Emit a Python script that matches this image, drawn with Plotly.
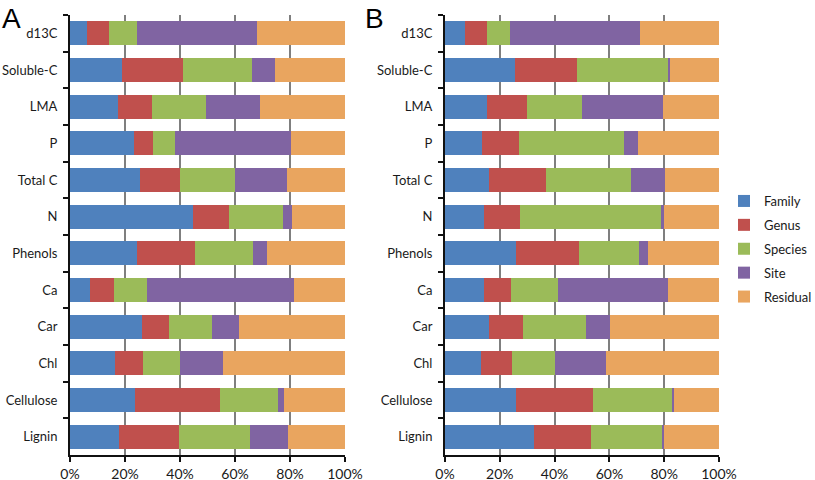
import plotly.graph_objects as go

categories = ["d13C", "Soluble-C", "LMA", "P", "Total C", "N", "Phenols", "Ca", "Car", "Chl", "Cellulose", "Lignin"]
series_names = ["Family", "Genus", "Species", "Site", "Residual"]

# Panel A (%)
a_family   = [6.2, 19.0, 17.6, 23.4, 25.4, 44.9, 24.3, 7.1, 26.0, 16.3, 23.7, 17.9]
a_genus    = [8.0, 22.2, 12.2, 6.9, 14.7, 12.9, 21.0, 8.8, 10.0, 10.2, 30.9, 21.8]
a_species  = [10.3, 24.9, 19.8, 8.0, 19.9, 19.5, 21.1, 12.1, 15.5, 13.4, 21.2, 25.6]
a_site     = [43.5, 8.5, 19.4, 42.1, 18.8, 3.5, 5.3, 53.4, 9.9, 15.6, 1.9, 13.9]
a_residual = [32.0, 25.4, 31.0, 19.6, 21.2, 19.2, 28.3, 18.6, 38.6, 44.5, 22.3, 20.8]

# Panel B (%)
b_family   = [7.4, 25.7, 15.3, 13.5, 16.1, 14.2, 25.9, 14.1, 15.9, 13.0, 25.8, 32.6]
b_genus    = [8.1, 22.4, 14.7, 13.5, 20.8, 13.1, 23.1, 10.0, 12.7, 11.6, 28.3, 20.8]
b_species  = [8.3, 33.5, 20.1, 38.3, 31.0, 51.5, 21.8, 17.1, 22.9, 15.7, 29.1, 26.0]
b_site     = [47.5, 0.5, 29.3, 5.0, 12.3, 1.2, 3.4, 40.3, 8.7, 18.6, 0.5, 0.6]
b_residual = [28.7, 17.9, 20.6, 29.7, 19.8, 20.0, 25.8, 18.5, 39.8, 41.1, 16.3, 20.0]

x_ticks = [0, 20, 40, 60, 80, 100]
x_tick_labels = ["0%", "20%", "40%", "60%", "80%", "100%"]
colors = ["#4F81BD", "#C0504D", "#9BBB59", "#8064A2", "#E9A55F"]

panel_a = [a_family, a_genus, a_species, a_site, a_residual]
panel_b = [b_family, b_genus, b_species, b_site, b_residual]

fig = go.Figure()
for name, vals, col in zip(series_names, panel_a, colors):
    fig.add_trace(go.Bar(y=categories, x=vals, orientation="h", name=name,
                         marker=dict(color=col, line=dict(width=0)),
                         xaxis="x", yaxis="y", legendgroup=name, showlegend=True))
for name, vals, col in zip(series_names, panel_b, colors):
    fig.add_trace(go.Bar(y=categories, x=vals, orientation="h", name=name,
                         marker=dict(color=col, line=dict(width=0)),
                         xaxis="x2", yaxis="y2", legendgroup=name, showlegend=False))

font = dict(family="Lato, Open Sans, sans-serif", size=13, color="#1a1a1a")

def xax(domain, anchor):
    return dict(domain=domain, anchor=anchor, range=[0, 100], tickmode="array",
                tickvals=x_ticks, ticktext=x_tick_labels, automargin=False,
                showgrid=True, gridcolor="#7f7f7f", gridwidth=2,
                showline=True, linecolor="#111", linewidth=2, ticks="outside",
                ticklen=5, tickwidth=2, tickcolor="#111", zeroline=False,
                tickfont=dict(family="Lato, Open Sans, sans-serif", size=14, color="#1a1a1a"),
                fixedrange=True)

def yax(anchor):
    return dict(domain=[1 - 455 / 480, 1 - 15 / 480], anchor=anchor, automargin=False,
                autorange="reversed", type="category", showgrid=False,
                showline=True, linecolor="#111", linewidth=2, ticks="outside",
                tickson="boundaries", ticklen=5, tickwidth=2, tickcolor="#111",
                tickfont=font, ticklabelstandoff=8, fixedrange=True)

fig.update_layout(
    template="none",
    width=815, height=480,
    margin=dict(l=0, r=0, t=0, b=0, autoexpand=False),
    paper_bgcolor="white", plot_bgcolor="white",
    barmode="stack", bargap=0.34,
    font=font,
    xaxis=xax([70 / 815, 345 / 815], "y"),
    yaxis=yax("x"),
    xaxis2=xax([445 / 815, 719 / 815], "y2"),
    yaxis2=yax("x2"),
    legend=dict(x=724 / 815, y=1 - 249 / 480, xanchor="left", yanchor="middle",
                font=dict(family="Lato, Open Sans, sans-serif", size=13, color="#1a1a1a"),
                itemwidth=30, tracegroupgap=4, bgcolor="rgba(0,0,0,0)"),
    annotations=[
        dict(text="A", x=11 / 815, y=1 - 19 / 480, xref="paper", yref="paper",
             xanchor="center", yanchor="middle",
             showarrow=False, font=dict(family="Liberation Sans, Arial", size=28, color="black")),
        dict(text="B", x=374 / 815, y=1 - 19 / 480, xref="paper", yref="paper",
             xanchor="center", yanchor="middle",
             showarrow=False, font=dict(family="Liberation Sans, Arial", size=28, color="black")),
    ],
)

fig.write_html("out.html", config={"displayModeBar": False},
               post_script="document.body.style.margin='0px';document.body.style.padding='0px';")
